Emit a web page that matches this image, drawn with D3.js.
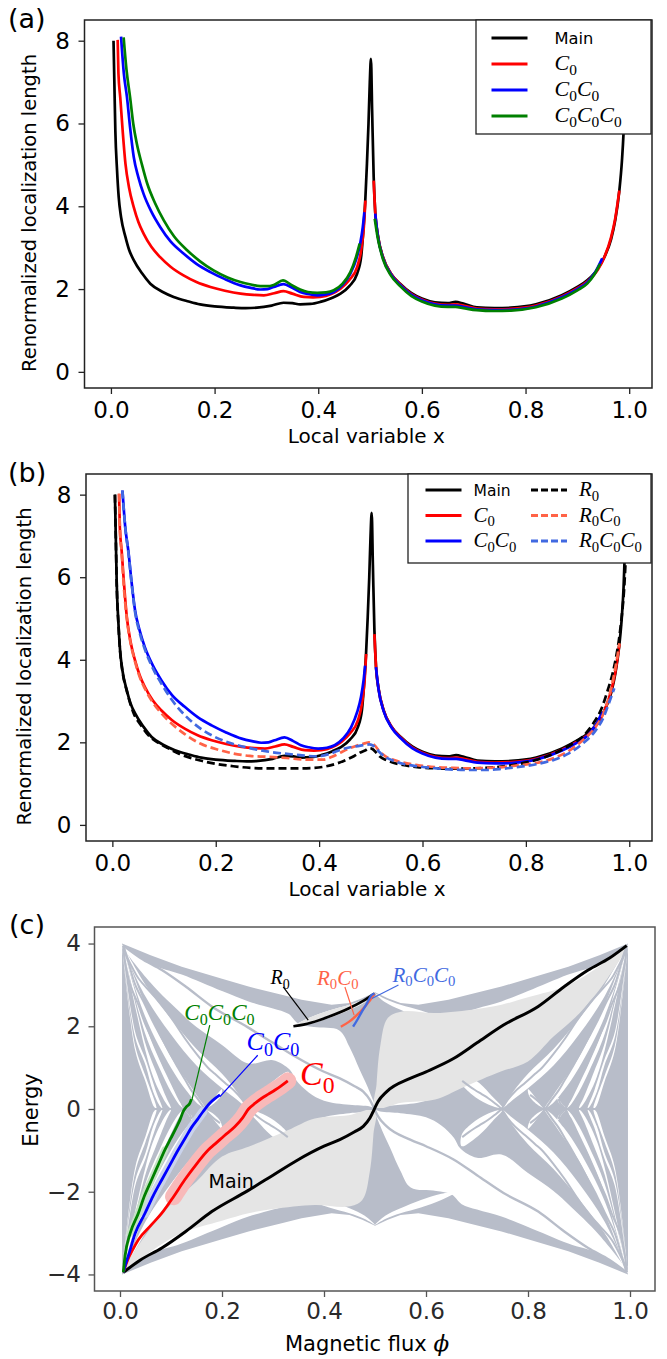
<!DOCTYPE html>
<html>
<head>
<meta charset="utf-8">
<script src="https://cdn.jsdelivr.net/npm/d3@7"></script>
<style>
body{margin:0;background:#fff}
text{font-family:"DejaVu Sans",sans-serif}
</style>
</head>
<body>
<script>
// ---------- data: panels (a) and (b), localization length vs x ----------
var xTicks = [0, 0.2, 0.4, 0.6, 0.8, 1.0]
var yTicksAB = [0, 2, 4, 6, 8]
var yTicksC = [-4, -2, 0, 2, 4]

var mainCurve = [[0.005,8.0],[0.0066,7.0],[0.0085,5.83],[0.0118,4.87],[0.015,4.22],[0.0195,3.74],[0.028,3.26],[0.035,2.95],[0.044,2.7],[0.06,2.38],[0.076,2.13],[0.1,1.93],[0.121,1.81],[0.15,1.7],[0.172,1.63],[0.2,1.58],[0.237,1.55],[0.26,1.54],[0.282,1.55],[0.31,1.6],[0.333,1.67],[0.35,1.66],[0.365,1.63],[0.385,1.64],[0.404,1.69],[0.425,1.78],[0.443,1.89],[0.46,2.07],[0.475,2.37],[0.483,2.8],[0.487,3.42],[0.491,4.2],[0.494,5.03],[0.497,6.0],[0.4995,7.0],[0.5017,7.56],[0.504,6.3],[0.507,4.7],[0.51,3.85],[0.515,3.3],[0.525,2.77],[0.54,2.38],[0.558,2.13],[0.58,1.9],[0.6,1.77],[0.625,1.68],[0.65,1.66],[0.665,1.69],[0.68,1.65],[0.706,1.56],[0.74,1.54],[0.772,1.55],[0.82,1.63],[0.87,1.85],[0.9,2.05],[0.919,2.21],[0.94,2.5],[0.952,2.77],[0.965,3.2],[0.973,3.66],[0.981,4.38],[0.986,5.1],[0.989,5.75],[0.992,6.8],[0.995,8.0]]

var c0Left = [[0.013,8.02],[0.0145,7.2],[0.018,6.63],[0.0226,5.83],[0.028,5.03],[0.035,4.45],[0.044,3.98],[0.053,3.62],[0.063,3.34],[0.078,3.02],[0.095,2.77],[0.115,2.54],[0.14,2.33],[0.165,2.17],[0.192,2.05],[0.22,1.96],[0.25,1.89],[0.275,1.86],[0.295,1.85],[0.315,1.9],[0.333,1.95],[0.35,1.89],[0.372,1.81],[0.39,1.8],[0.404,1.81],[0.425,1.88],[0.443,2.01],[0.46,2.22],[0.475,2.53],[0.483,2.95],[0.488,3.5],[0.491,4.14]]
var c0Right = [[0.507,4.62],[0.51,3.85],[0.515,3.3],[0.525,2.77],[0.54,2.38],[0.558,2.12],[0.58,1.88],[0.6,1.75],[0.625,1.65],[0.65,1.62],[0.665,1.63],[0.68,1.6],[0.706,1.53],[0.74,1.51],[0.772,1.52],[0.82,1.6],[0.87,1.82],[0.9,2.02],[0.919,2.18],[0.94,2.48],[0.952,2.77],[0.965,3.25],[0.973,3.7],[0.981,4.38]]

var c0c0Left = [[0.0195,8.1],[0.025,7.2],[0.031,6.63],[0.037,5.9],[0.044,5.19],[0.053,4.7],[0.063,4.3],[0.078,3.87],[0.095,3.5],[0.115,3.15],[0.14,2.86],[0.165,2.61],[0.192,2.41],[0.22,2.24],[0.25,2.09],[0.27,2.03],[0.288,1.99],[0.302,2.0],[0.314,2.05],[0.333,2.12],[0.35,2.03],[0.365,1.93],[0.38,1.88],[0.398,1.85],[0.415,1.87],[0.43,1.93],[0.447,2.1],[0.462,2.37],[0.474,2.75],[0.481,3.1],[0.486,3.5],[0.489,3.86]]
var c0c0Right = [[0.51,3.82],[0.515,3.28],[0.525,2.75],[0.54,2.36],[0.558,2.1],[0.58,1.86],[0.6,1.73],[0.625,1.63],[0.65,1.6],[0.665,1.6],[0.68,1.57],[0.706,1.51],[0.74,1.49],[0.772,1.5],[0.82,1.58],[0.87,1.8],[0.9,2.0],[0.919,2.16],[0.935,2.42],[0.948,2.74]]

var c3Left = [[0.0245,8.08],[0.03,7.3],[0.037,6.63],[0.043,6.0],[0.05,5.51],[0.06,5.0],[0.07,4.55],[0.085,4.08],[0.102,3.66],[0.122,3.27],[0.147,2.94],[0.172,2.67],[0.198,2.45],[0.225,2.28],[0.25,2.17],[0.27,2.11],[0.288,2.07],[0.302,2.07],[0.314,2.1],[0.332,2.21],[0.348,2.1],[0.365,1.99],[0.38,1.93],[0.398,1.91],[0.415,1.92],[0.43,1.97],[0.447,2.13],[0.462,2.41],[0.473,2.78],[0.48,3.1]]
var c3Right = [[0.509,3.7],[0.515,3.22],[0.525,2.72],[0.54,2.33],[0.558,2.07],[0.58,1.83],[0.6,1.7],[0.625,1.6],[0.65,1.57],[0.665,1.57],[0.68,1.54],[0.706,1.49],[0.74,1.47],[0.772,1.48],[0.82,1.56],[0.87,1.77],[0.9,1.97],[0.919,2.13],[0.933,2.36],[0.944,2.61]]

var r0Curve = [[0.005,8.0],[0.0066,7.0],[0.0085,5.8],[0.0118,4.85],[0.015,4.2],[0.0195,3.72],[0.028,3.24],[0.041,2.71],[0.055,2.42],[0.073,2.13],[0.09,1.98],[0.106,1.87],[0.13,1.72],[0.17,1.56],[0.2,1.48],[0.234,1.42],[0.27,1.38],[0.299,1.37],[0.333,1.37],[0.363,1.37],[0.39,1.38],[0.414,1.42],[0.435,1.49],[0.453,1.58],[0.468,1.67],[0.479,1.75],[0.49,1.81],[0.497,1.86],[0.503,1.84],[0.511,1.74],[0.517,1.66],[0.53,1.57],[0.545,1.5],[0.562,1.45],[0.59,1.4],[0.627,1.37],[0.66,1.36],[0.691,1.37],[0.72,1.38],[0.743,1.4],[0.775,1.45],[0.807,1.53],[0.835,1.63],[0.858,1.75],[0.885,1.93],[0.91,2.14],[0.93,2.45],[0.948,2.87],[0.958,3.25],[0.968,3.68],[0.975,4.1],[0.98,4.48],[0.985,5.0],[0.99,5.7],[0.993,6.4]]
var r0c0Curve = [[0.013,8.02],[0.0145,7.2],[0.018,6.6],[0.022,5.8],[0.028,5.0],[0.035,4.42],[0.044,3.95],[0.053,3.58],[0.063,3.3],[0.078,2.97],[0.095,2.7],[0.115,2.45],[0.14,2.2],[0.17,1.97],[0.2,1.84],[0.234,1.73],[0.266,1.67],[0.299,1.65],[0.337,1.62],[0.376,1.58],[0.408,1.58],[0.425,1.65],[0.441,1.75],[0.458,1.85],[0.475,1.93],[0.49,1.98],[0.496,2.0],[0.502,1.98],[0.508,1.92],[0.517,1.78],[0.53,1.65],[0.545,1.57],[0.562,1.51],[0.59,1.45],[0.627,1.4],[0.66,1.38],[0.691,1.37],[0.72,1.38],[0.755,1.4],[0.79,1.45],[0.82,1.5],[0.855,1.62],[0.884,1.8],[0.91,2.05],[0.935,2.38],[0.95,2.7],[0.961,3.11],[0.97,3.6],[0.977,4.08],[0.981,4.4]]
var r0c0c0Curve = [[0.0195,8.1],[0.025,7.2],[0.031,6.6],[0.037,5.88],[0.044,5.15],[0.053,4.65],[0.063,4.25],[0.078,3.8],[0.095,3.42],[0.115,3.03],[0.14,2.66],[0.17,2.34],[0.2,2.12],[0.234,1.96],[0.266,1.86],[0.299,1.78],[0.33,1.73],[0.363,1.69],[0.395,1.66],[0.42,1.72],[0.441,1.82],[0.46,1.88],[0.475,1.91],[0.49,1.94],[0.497,1.95],[0.503,1.93],[0.51,1.86],[0.517,1.76],[0.53,1.63],[0.545,1.55],[0.562,1.48],[0.59,1.42],[0.627,1.37],[0.66,1.34],[0.691,1.33],[0.72,1.33],[0.755,1.36],[0.79,1.41],[0.82,1.47],[0.855,1.58],[0.884,1.74],[0.91,1.97],[0.935,2.29],[0.95,2.6],[0.961,2.96],[0.971,3.31]]

// ---------- data: panel (c), energy vs magnetic flux ----------
var mainPath = [[0.0065,-3.95],[0.04,-3.65],[0.082,-3.36],[0.13,-2.95],[0.18,-2.48],[0.25,-1.98],[0.3,-1.6],[0.346,-1.25],[0.4,-0.9],[0.431,-0.74],[0.46,-0.55],[0.477,-0.42],[0.49,-0.22],[0.498,-0.02],[0.506,0.18],[0.523,0.42],[0.569,0.74],[0.6,0.9],[0.654,1.22],[0.7,1.6],[0.752,2.03],[0.82,2.48],[0.87,2.95],[0.918,3.36],[0.96,3.65],[0.9935,3.95]]
var c0Path = [[0.0065,-3.95],[0.015,-3.65],[0.025,-3.4],[0.036,-3.16],[0.06,-2.82],[0.082,-2.52],[0.105,-2.12],[0.127,-1.71],[0.15,-1.33],[0.173,-0.99],[0.186,-0.85],[0.205,-0.64],[0.225,-0.43],[0.24,-0.22],[0.252,0.0],[0.265,0.14],[0.278,0.26],[0.291,0.36],[0.304,0.46],[0.316,0.56],[0.329,0.68]]
var c0c0Path = [[0.0065,-3.95],[0.011,-3.75],[0.016,-3.56],[0.03,-3.0],[0.049,-2.52],[0.065,-2.1],[0.082,-1.71],[0.098,-1.35],[0.114,-0.99],[0.128,-0.7],[0.14,-0.45],[0.152,-0.25],[0.163,-0.06],[0.176,0.14],[0.186,0.25],[0.196,0.34]]
var c3Path = [[0.0065,-3.95],[0.0098,-3.56],[0.02,-3.0],[0.036,-2.52],[0.048,-2.1],[0.062,-1.71],[0.075,-1.35],[0.088,-0.99],[0.1,-0.7],[0.111,-0.43],[0.118,-0.25],[0.124,-0.06],[0.13,0.05],[0.137,0.14],[0.14,0.24]]
var r0Path = [[0.34,2.0],[0.36,2.04],[0.376,2.09],[0.409,2.23],[0.448,2.43],[0.475,2.6],[0.499,2.79]]
var r0c0Path = [[0.433,1.99],[0.448,2.1],[0.461,2.23],[0.48,2.47],[0.497,2.75],[0.499,2.79]]
var r0c0c0Path = [[0.457,1.99],[0.466,2.17],[0.474,2.35],[0.484,2.55],[0.493,2.75],[0.499,2.79]]

// spectrum outline and gaps, read for the quadrant 0<phi<0.5, E>0 (the plot is mirror symmetric)
var envTop = [[0.004,4.0],[0.06,3.72],[0.121,3.44],[0.2,3.15],[0.252,2.96],[0.317,2.76],[0.356,2.64],[0.415,2.52],[0.45,2.56],[0.475,2.68],[0.5,2.82]]
var gapA = [[0.004,3.97],[0.06,3.5],[0.121,3.25],[0.2,2.85],[0.252,2.6],[0.3,2.43],[0.33,2.3],[0.35,2.06],[0.38,1.98],[0.43,1.9],[0.45,1.5],[0.47,0.95],[0.49,0.4],[0.5,0.02],[0.49,0.06],[0.45,0.1],[0.4,0.2],[0.37,0.4],[0.345,0.7],[0.333,0.95],[0.3,1.18],[0.252,1.1],[0.2,1.55],[0.15,1.98],[0.121,2.3],[0.06,3.05]]
var gapB = [[0.004,3.97],[0.05,3.0],[0.1,2.18],[0.15,1.45],[0.2,0.85],[0.23,0.4],[0.25,0.02],[0.23,0.22],[0.2,0.5],[0.15,1.05],[0.1,1.8],[0.05,2.72]]
var gapC = [[0.004,3.97],[0.05,2.5],[0.1,1.25],[0.13,0.7],[0.15,0.34],[0.167,0.02],[0.155,0.1],[0.13,0.45],[0.1,1.0],[0.05,2.22]]
var gapD = [[0.004,3.97],[0.05,2.02],[0.08,1.12],[0.1,0.6],[0.115,0.22],[0.125,0.02],[0.118,0.08],[0.1,0.42],[0.08,0.92],[0.05,1.8]]
var gapE = [[0.004,3.97],[0.05,1.58],[0.07,0.92],[0.09,0.3],[0.1,0.02],[0.095,0.06],[0.08,0.36],[0.065,0.78],[0.05,1.4]]
var gapF = [[0.004,3.97],[0.03,1.85],[0.05,1.2],[0.07,0.45],[0.083,0.02],[0.079,0.06],[0.065,0.42],[0.05,1.06],[0.03,1.72]]
var gapG = [[0.004,3.97],[0.03,1.52],[0.05,0.8],[0.0714,0.02],[0.067,0.05],[0.05,0.66],[0.03,1.4]]
var wedge25 = [[0.25,0.02],[0.27,0.3],[0.295,0.62],[0.33,0.9],[0.33,0.62],[0.31,0.35],[0.28,0.12]]
var wedge17 = [[0.167,0.02],[0.18,0.2],[0.2,0.48],[0.197,0.3],[0.18,0.09]]
var wedge12 = [[0.125,0.02],[0.135,0.15],[0.143,0.32],[0.14,0.16],[0.132,0.06]]
var r0Lens = [[0.34,2.0],[0.37,2.2],[0.41,2.38],[0.45,2.52],[0.48,2.66],[0.5,2.8],[0.48,2.58],[0.45,2.4],[0.41,2.2],[0.37,2.05]]
// highlighted gap around the main path (lower left); the upper right one is its point image
var lightGapLL = [[0.006,-3.95],[0.05,-3.05],[0.1,-2.3],[0.15,-1.75],[0.2,-1.15],[0.252,-0.91],[0.29,-0.72],[0.33,-0.51],[0.382,-0.23],[0.448,-0.15],[0.5,-0.02],[0.497,-0.6],[0.49,-1.5],[0.475,-2.2],[0.447,-2.36],[0.382,-2.32],[0.3,-2.42],[0.252,-2.52],[0.2,-2.7],[0.121,-3.0],[0.06,-3.45]]

// ---------- drawing ----------
var svg = d3.select("body").append("svg").attr("width", 667).attr("height", 1359)

function lineGen(x, y, curve) {
  return d3.line().x(function(d) {return x(d[0])}).y(function(d) {return y(d[1])}).curve(curve || d3.curveMonotoneX)
}

function mathText(t, s, size) {
  var low = false
  s.split("").forEach(function(ch) {
    var sp = t.append("tspan").text(ch).attr("font-family", "Liberation Serif, DejaVu Serif")
    if (ch === "0") {
      sp.attr("font-style", "normal").attr("font-size", size * 0.7).attr("dy", low ? 0 : size * 0.22)
      low = true
    } else {
      sp.attr("font-style", "italic").attr("font-size", size).attr("dy", low ? -size * 0.22 : 0)
      low = false
    }
  })
}

function label(t, s, size) {
  if (s === "Main") t.text(s).attr("font-size", size * 0.74)
  else mathText(t, s, size)
}

function axes(x, y, box, yTicks, col, padX, padY) {
  var ax = svg.append("g").attr("transform", "translate(0," + box.b + ")")
    .call(d3.axisBottom(x).tickValues(xTicks).tickFormat(d3.format(".1f")).tickSize(6).tickPadding(padX))
  var ay = svg.append("g").attr("transform", "translate(" + box.l + ",0)")
    .call(d3.axisLeft(y).tickValues(yTicks).tickFormat(d3.format("d")).tickSize(6).tickPadding(padY))
  ;[ax, ay].forEach(function(a) {
    a.select(".domain").remove()
    a.selectAll("line").attr("stroke", col).attr("stroke-width", 1.3)
    a.selectAll("text").attr("font-size", "23px").attr("font-family", "DejaVu Sans").attr("fill", col === "#222" ? "#000" : "#2a2a2a")
  })
  svg.append("rect").attr("x", box.l).attr("y", box.t).attr("width", box.r - box.l).attr("height", box.b - box.t)
    .attr("fill", "none").attr("stroke", col).attr("stroke-width", 1.5)
}

function linePanel(box, series, tag, xLabelY, yLabelX, legend) {
  var x = d3.scaleLinear().domain([-0.051, 1.044]).range([box.l, box.r])
  var y = d3.scaleLinear().domain([-0.39, 8.5]).range([box.b, box.t])
  var line = lineGen(x, y)
  series.forEach(function(s) {
    s.segs.forEach(function(seg) {
      svg.append("path").datum(seg).attr("d", line).attr("fill", "none")
        .attr("stroke", s.color).attr("stroke-width", 2.7)
        .attr("stroke-dasharray", s.dash ? "8,4" : null)
    })
  })
  axes(x, y, box, yTicksAB, "#222", 8, 8.5)

  // legend
  var lg = svg.append("g")
  lg.append("rect").attr("x", legend.x).attr("y", legend.y).attr("width", legend.w).attr("height", legend.h)
    .attr("fill", "#fff").attr("stroke", "#222").attr("stroke-width", 1.3)
  series.forEach(function(s, i) {
    var col = Math.floor(i / legend.rows.length), r = i % legend.rows.length
    var ly = legend.rows[r], lx = legend.cols[col]
    lg.append("line").attr("x1", lx).attr("x2", lx + 36).attr("y1", ly).attr("y2", ly)
      .attr("stroke", s.color).attr("stroke-width", 2.8).attr("stroke-dasharray", s.dash ? "7,3" : null)
    label(lg.append("text").attr("x", lx + legend.gap).attr("y", ly + 6), s.lab, legend.font)
  })

  svg.append("text").attr("x", 8).attr("y", box.t + 8).attr("font-size", "27px").text(tag)
  svg.append("text").attr("x", (box.l + box.r) / 2 - 2).attr("y", xLabelY).attr("text-anchor", "middle")
    .attr("font-size", "20px").text("Local variable x")
  svg.append("text").attr("transform", "translate(" + yLabelX + "," + ((box.t + box.b) / 2 + 9) + ") rotate(-90)")
    .attr("text-anchor", "middle").attr("font-size", "19.5px").text("Renormalized localization length")
}

var seriesA = [
  {lab: "Main", color: "black", segs: [mainCurve]},
  {lab: "C0", color: "red", segs: [c0Left, c0Right]},
  {lab: "C0C0", color: "blue", segs: [c0c0Left, c0c0Right]},
  {lab: "C0C0C0", color: "green", segs: [c3Left, c3Right]}
]
var seriesB = [
  {lab: "Main", color: "black", segs: [mainCurve]},
  {lab: "C0", color: "red", segs: [c0Left, c0Right]},
  {lab: "C0C0", color: "blue", segs: [c0c0Left, c0c0Right]},
  {lab: "R0", color: "black", dash: true, segs: [r0Curve]},
  {lab: "R0C0", color: "tomato", dash: true, segs: [r0c0Curve]},
  {lab: "R0C0C0", color: "royalblue", dash: true, segs: [r0c0c0Curve]}
]

linePanel({l: 84.5, r: 652, t: 20, b: 388}, seriesA, "(a)", 443, 36,
  {x: 476, y: 20, w: 175, h: 114, rows: [38, 64, 90, 116], cols: [491.5], gap: 63, font: 22})
linePanel({l: 86, r: 652, t: 474, b: 841}, seriesB, "(b)", 896, 31,
  {x: 408, y: 474, w: 243, h: 89, rows: [490, 515.5, 541], cols: [425.5, 531], gap: 48, font: 21})

// ---------- panel (c) ----------
var boxC = {l: 94.5, r: 655, t: 927, b: 1291}
var bx = d3.scaleLinear().domain([-0.05, 1.049]).range([boxC.l, boxC.r])
var by = d3.scaleLinear().domain([-4.4, 4.4]).range([boxC.b, boxC.t])
var grayBand = "#b8bdc9", lightGap = "#e5e5e5"

function flip(pts, m) {
  return pts.map(function(p) {return [m[0] ? 1 - p[0] : p[0], m[1] ? -p[1] : p[1]]})
}
var quads = [[0, 0], [1, 0], [0, 1], [1, 1]]
var polyLin = lineGen(bx, by, d3.curveLinearClosed)
var polySmooth = lineGen(bx, by, d3.curveCatmullRomClosed.alpha(0.5))
var pathC = lineGen(bx, by, d3.curveMonotoneX)
var pathFree = lineGen(bx, by, d3.curveCatmullRom.alpha(0.5))

var gc = svg.append("g")
var envUpper = envTop.concat(flip(envTop, [1, 0]).reverse())
var envOutline = envUpper.concat(flip(envUpper, [0, 1]).reverse())
gc.append("path").datum(envOutline).attr("d", polyLin).attr("fill", grayBand)

var gaps = [gapA, gapB, gapC, gapD, gapE, gapF, gapG, wedge25, wedge17, wedge12, r0Lens]
gaps.forEach(function(gp) {
  quads.forEach(function(q) {
    gc.append("path").datum(flip(gp, q)).attr("d", polySmooth).attr("fill", "#fff")
  })
})
// highlighted gaps
;[lightGapLL, flip(lightGapLL, [1, 1]), r0Lens].forEach(function(gp) {
  gc.append("path").datum(gp).attr("d", polySmooth).attr("fill", lightGap)
})

// edge-state lines of the spectrum (mirror images of the traced paths)
gc.append("path").datum(flip(mainPath, [0, 1]).reverse()).attr("d", pathC)
  .attr("fill", "none").attr("stroke", grayBand).attr("stroke-width", 2.4)
;[c0Path, c0c0Path, c3Path].forEach(function(p) {
  [[0, 1], [1, 0], [1, 1]].forEach(function(q) {
    gc.append("path").datum(flip(p, q)).attr("d", pathFree)
      .attr("fill", "none").attr("stroke", grayBand).attr("stroke-width", 2)
  })
})
gc.append("line").attr("x1", bx(0.004)).attr("x2", bx(0.996)).attr("y1", by(0)).attr("y2", by(0))
  .attr("stroke", grayBand).attr("stroke-width", 2.2)

// soft bands along the coloured paths
function band(p, lo, hi, color, w) {
  gc.append("path").datum(p.filter(function(d) {return d[0] >= lo && d[0] <= hi}))
    .attr("d", pathC).attr("fill", "none").attr("stroke", color)
    .attr("stroke-width", w).attr("stroke-linecap", "round").attr("stroke-linejoin", "round")
}
band(c0Path, 0.09, 1, "#f8b9b9", 17)
band(c0c0Path, 0.035, 0.175, "#cad3ec", 9)
band(c3Path, 0.015, 0.095, "#c6e2c6", 7)

var pathsC = [
  {p: mainPath, color: "black", w: 3},
  {p: c0Path, color: "red", w: 2.8},
  {p: c0c0Path, color: "blue", w: 2.8},
  {p: c3Path, color: "green", w: 2.8},
  {p: r0Path, color: "black", w: 2.6},
  {p: r0c0Path, color: "tomato", w: 2.4},
  {p: r0c0c0Path, color: "royalblue", w: 2.4}
]
pathsC.forEach(function(s) {
  gc.append("path").datum(s.p).attr("d", pathC).attr("fill", "none")
    .attr("stroke", s.color).attr("stroke-width", s.w).attr("stroke-linejoin", "round")
})

// annotations: label, its centre, pointer line
var notes = [
  {lab: "R0", color: "black", size: 20, at: [0.314, 3.16], from: [0.32, 2.95], to: [0.369, 2.15]},
  {lab: "R0C0", color: "tomato", size: 21, at: [0.427, 3.16], from: [0.441, 2.95], to: [0.459, 2.27]},
  {lab: "R0C0C0", color: "royalblue", size: 21, at: [0.596, 3.23], from: [0.546, 3.0], to: [0.494, 2.67]},
  {lab: "C0C0C0", color: "green", size: 23, at: [0.195, 2.31], from: [0.176, 2.03], to: [0.141, 0.22]},
  {lab: "C0C0", color: "blue", size: 26, at: [0.3, 1.62], from: [0.27, 1.3], to: [0.196, 0.3]},
  {lab: "C0", color: "red", size: 34, at: [0.387, 0.82]}
]
notes.forEach(function(n) {
  if (n.from) {
    gc.append("line").attr("x1", bx(n.from[0])).attr("y1", by(n.from[1]))
      .attr("x2", bx(n.to[0])).attr("y2", by(n.to[1])).attr("stroke", n.color).attr("stroke-width", 1.2)
  }
  var t = gc.append("text").attr("x", bx(n.at[0])).attr("y", by(n.at[1]) + n.size * 0.3)
    .attr("text-anchor", "middle").attr("fill", n.color)
  mathText(t, n.lab, n.size)
})
gc.append("text").attr("x", bx(0.218)).attr("y", by(-1.74) + 7).attr("text-anchor", "middle")
  .attr("font-size", "19px").text("Main")

axes(bx, by, boxC, yTicksC, "#555", 6, 7.5)
svg.append("text").attr("x", 9).attr("y", 934).attr("font-size", "27px").text("(c)")
svg.append("text").attr("transform", "translate(38,1110) rotate(-90)").attr("text-anchor", "middle")
  .attr("font-size", "21px").text("Energy")
var xl = svg.append("text").attr("x", 367).attr("y", 1351).attr("text-anchor", "middle").attr("font-size", "21px")
xl.append("tspan").text("Magnetic flux ")
xl.append("tspan").attr("font-family", "DejaVu Serif").attr("font-style", "italic").attr("font-size", "23px").text("\u03d5")
</script>
</body>
</html>
